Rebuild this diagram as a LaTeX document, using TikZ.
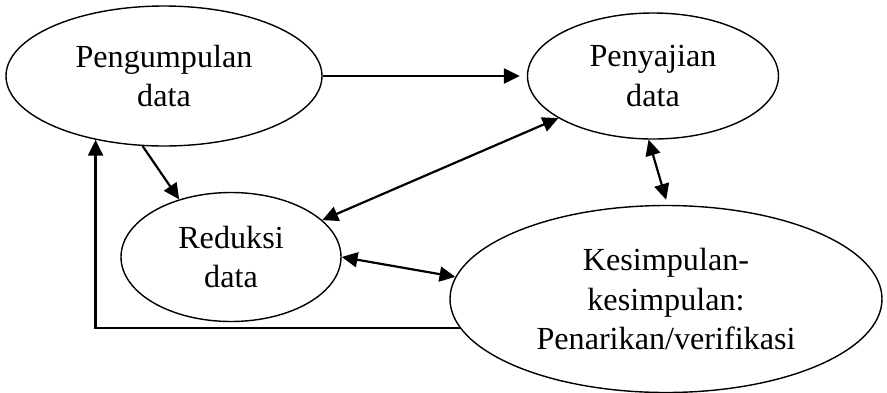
\documentclass[tikz,border=0pt]{standalone}
\usepackage{fontspec}
\setmainfont{Liberation Serif}
\usetikzlibrary{arrows.meta,shapes.geometric}

\begin{document}
\begin{tikzpicture}[
    font=\fontsize{18.3}{22.6}\selectfont,
    >={Triangle[length=9pt,width=8.5pt]},
    stage/.style={
      draw,
      ellipse,
      line width=0.8pt,
      inner sep=0pt,
      align=center
    },
    flow/.style={->, line width=1.25pt}
  ]
  \useasboundingbox (0,0) rectangle (17.74,-7.84);

  % ========== Stages ==========
  \node[stage, minimum width=6.32cm, minimum height=2.8cm]
    (pengumpulan) at (3.28,-1.52) {Pengumpulan\\data};
  \node[stage, minimum width=5.02cm, minimum height=2.52cm]
    (penyajian) at (13.06,-1.52) {Penyajian\\data};
  \node[stage, minimum width=4.4cm, minimum height=2.58cm]
    (reduksi) at (4.62,-5.14) {Reduksi\\data};
  \node[stage, minimum width=8.64cm, minimum height=3.74cm]
    (kesimpulan) at (13.32,-5.98)
    {Kesimpulan-\\kesimpulan:\\Penarikan/verifikasi};

  % ========== Connectors ==========
  \draw[flow, shorten >=4pt] (pengumpulan.east) -- (penyajian.west);
  \draw[flow] (pengumpulan.253) -- (reduksi.132);
  \draw[flow, <->] (reduksi.22) -- (penyajian.204);
  \draw[flow, <->, shorten >=3pt] (penyajian.266) -- (kesimpulan.89);
  \draw[flow, <->] (reduksi.east) -- (kesimpulan.174);
  \draw[flow] (kesimpulan.188) -| (pengumpulan.223);
\end{tikzpicture}
\end{document}
